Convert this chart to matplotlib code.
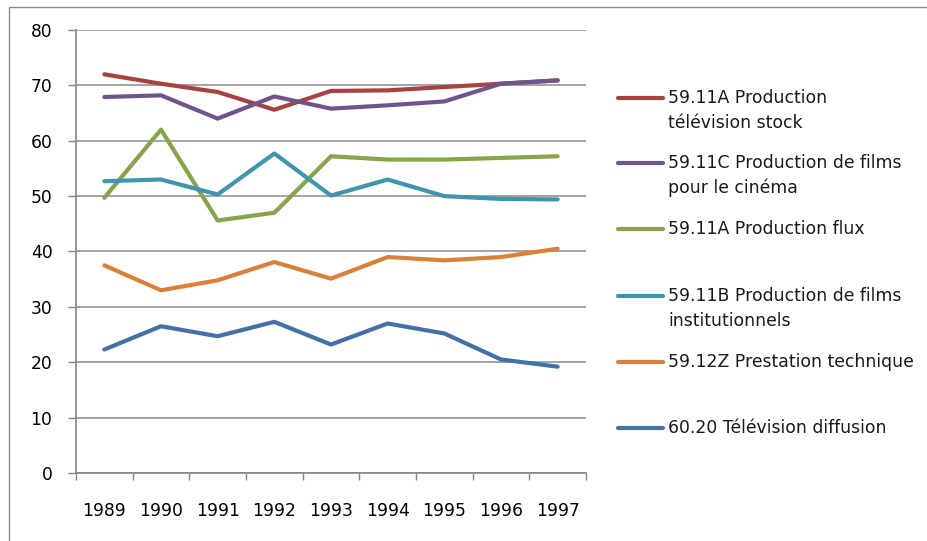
import matplotlib
matplotlib.use("Agg")
import matplotlib.pyplot as plt
from matplotlib.lines import Line2D
from matplotlib.patches import Rectangle
import numpy as np

years = ["1989", "1990", "1991", "1992", "1993", "1994", "1995", "1996", "1997"]

tv_stock = [72.0, 70.3, 68.8, 65.6, 69.0, 69.1, 69.7, 70.3, 70.9]
cinema = [67.9, 68.2, 64.0, 68.0, 65.8, 66.4, 67.1, 70.3, 70.9]
flux = [49.7, 62.0, 45.6, 47.0, 57.2, 56.6, 56.6, 56.9, 57.2]
institutionnels = [52.7, 53.0, 50.3, 57.7, 50.1, 53.0, 50.0, 49.5, 49.4]
prestation = [37.5, 33.0, 34.8, 38.1, 35.1, 39.0, 38.4, 39.0, 40.5]
tv_diffusion = [22.3, 26.5, 24.7, 27.3, 23.2, 27.0, 25.2, 20.5, 19.2]

labels = [
    "59.11A Production\ntélévision stock",
    "59.11C Production de films\npour le cinéma",
    "59.11A Production flux",
    "59.11B Production de films\ninstitutionnels",
    "59.12Z Prestation technique",
    "60.20 Télévision diffusion",
]
series = [tv_stock, cinema, flux, institutionnels, prestation, tv_diffusion]
colors = ["#A8423F", "#6E548D", "#86A44A", "#3D96AE", "#DA8137", "#4270A8"]

W, H = 928, 541
fig = plt.figure(figsize=(W / 100, H / 100), dpi=100)
plt.rcParams["font.family"] = ["DejaVu Sans"]

# chart area border (runs off the right/bottom edge like the original)
fig.add_artist(Rectangle((9 / W, -0.1), 1.2, 1 - 7 / H + 0.1, transform=fig.transFigure,
                         fill=False, edgecolor="#8c8c8c", linewidth=1.0))

ax = fig.add_axes([76 / W, 1 - 473 / H, (586 - 76) / W, (473 - 30) / H])
x = np.arange(len(years))
for vals, col, lab in zip(series, colors, labels):
    ax.plot(x, vals, color=col, linewidth=3.0, solid_capstyle="round",
            solid_joinstyle="round", label=lab)

ax.set_xlim(-0.5, len(years) - 0.5)
ax.set_ylim(0, 80)
ax.set_yticks(range(0, 81, 10))
ax.set_xticks(x)
ax.set_xticklabels(years)
ax.set_xticks(np.arange(-0.5, len(years), 1), minor=True)
ax.tick_params(axis="x", which="major", length=0, pad=21, labelsize=12.3)
ax.tick_params(axis="x", which="minor", length=5, width=1, color="#868686")
ax.tick_params(axis="y", length=6, width=1, color="#868686", pad=11, labelsize=12.3)
ax.yaxis.grid(True, color="#8a8a8a", linewidth=1.1)
ax.set_axisbelow(True)
for s in ["top", "right"]:
    ax.spines[s].set_visible(False)
for s in ["left", "bottom"]:
    ax.spines[s].set_color("#868686")
    ax.spines[s].set_linewidth(1.2)

# legend drawn by hand: line aligned with the first text row
entry_y = [98, 163, 229, 296, 362, 428]
for lab, col, ypx in zip(labels, colors, entry_y):
    yf = 1 - ypx / H
    fig.add_artist(Line2D([618 / W, 663 / W], [yf, yf], transform=fig.transFigure,
                          color=col, linewidth=3.0, solid_capstyle="round"))
    for i, row in enumerate(lab.split("\n")):
        fig.text(668 / W, 1 - (ypx + 25 * i) / H, row, ha="left", va="center",
                 fontsize=12.4, color="#1a1a1a")

fig.savefig("out.png", dpi=100)
